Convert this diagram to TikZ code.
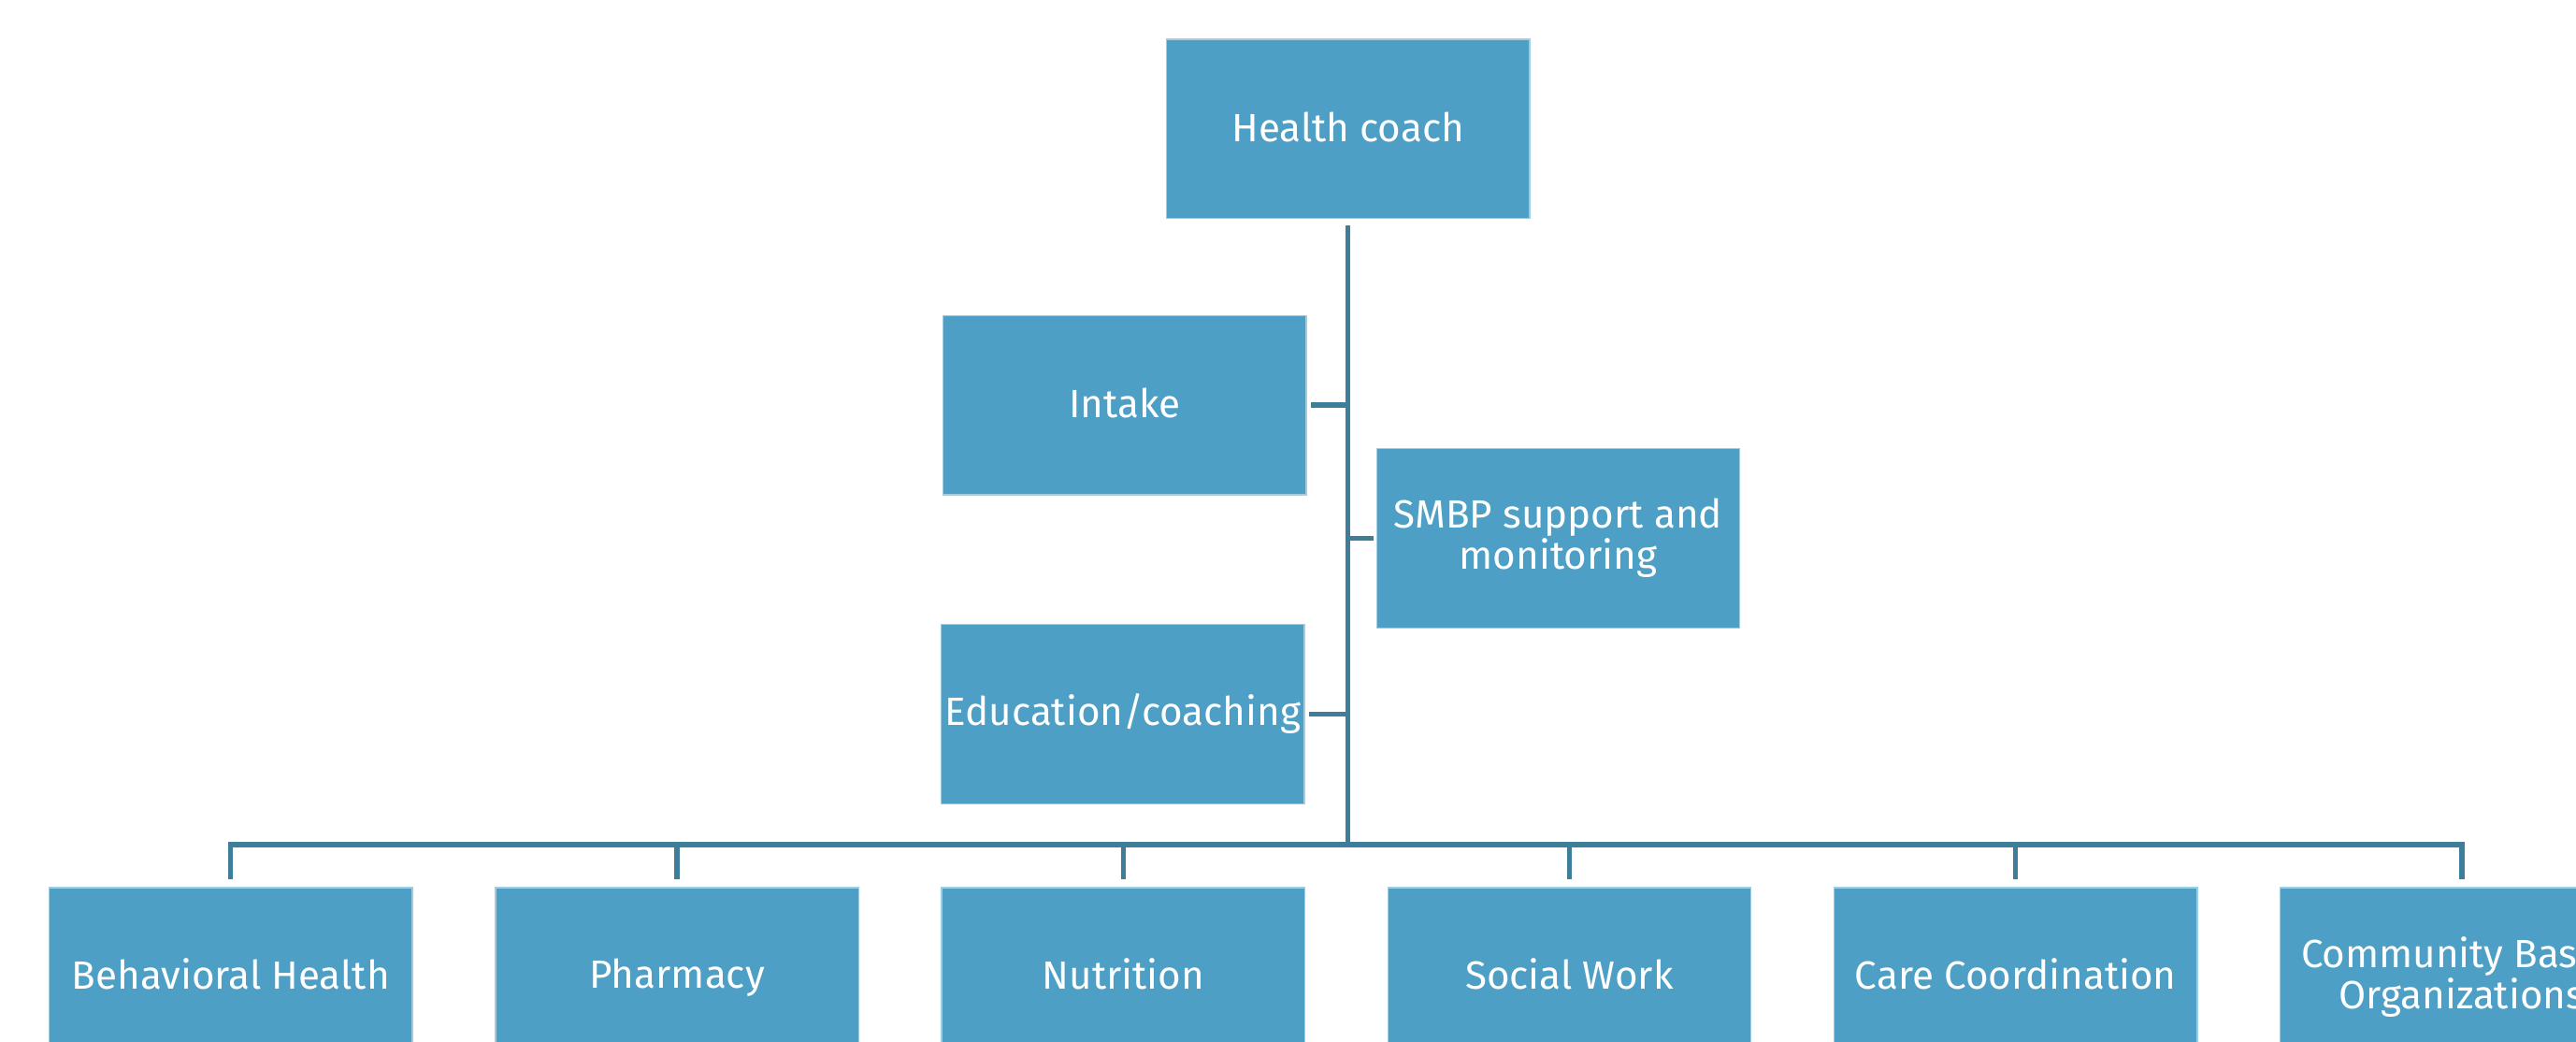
\documentclass[tikz,border=0pt]{standalone}
\usepackage{fontspec}
\setmainfont{Fira Sans}
\usetikzlibrary{positioning}
\definecolor{boxblue}{RGB}{78,159,197}
\definecolor{linkblue}{RGB}{63,126,155}
\definecolor{edgeblue}{RGB}{160,205,225}
\newcommand{\boxstrut}{\rule[-2pt]{0pt}{11.5pt}}
\tikzset{
  box/.style={fill=boxblue, draw=edgeblue, line width=0.4pt, text=white,
    minimum width=110.5pt, minimum height=54.5pt, inner sep=0pt, outer sep=0pt,
    align=center, font=\fontsize{12}{12.5}\selectfont,
    execute at begin node=\boxstrut, execute at end node=\boxstrut},
  link/.style={draw=linkblue, line width=1.5pt}
}

\begin{document}
\begin{tikzpicture}[x=0.5pt, y=-0.5pt]
  \useasboundingbox (0,0) rectangle (1568,634);
  \clip (0,0) rectangle (1568,634);
  % coach and the three tasks hanging off the trunk
  \node[box] (hc) at (820.5,78.5)  {Health coach};
  \node[box] (in) at (684.5,246.5) {Intake};
  \node[box] (sm) at (948.5,327.5) {SMBP support and\\monitoring};
  \node[box] (ed) at (683.5,434.5) {Education/coaching};
  % bottom row of services
  \node[box] (bh) at (140.5,594.5)       {Behavioral Health};
  \node[box, right=25.3pt of bh] (ph)   {Pharmacy};
  \node[box, right=25.3pt of ph] (nu)   {Nutrition};
  \node[box, right=25.3pt of nu] (sw)   {Social Work};
  \node[box, right=25.3pt of sw] (cc)   {Care Coordination};
  \node[box, right=25.3pt of cc] (cbo)  {Community Based\\Organizations};
  \coordinate (bar) at (820,514);
  % trunk and side ticks
  \draw[link, shorten <=2pt] (hc.south) -- (hc.south |- bar);
  \draw[link, shorten <=1.5pt] (in.east) -- (in.east -| hc.south);
  \draw[link, shorten <=1pt] (sm.west) -- (sm.west -| hc.south);
  \draw[link, shorten <=1.5pt] (ed.east) -- (ed.east -| hc.south);
  % bar with drops
  \draw[link, shorten <=2.5pt, shorten >=2.5pt]
    (bh.north) -- (bh.north |- bar) -- (cbo.north |- bar) -- (cbo.north);
  \foreach \n in {ph,nu,sw,cc}
    \draw[link, shorten >=2.5pt] (\n.north |- bar) -- (\n.north);
\end{tikzpicture}
\end{document}
